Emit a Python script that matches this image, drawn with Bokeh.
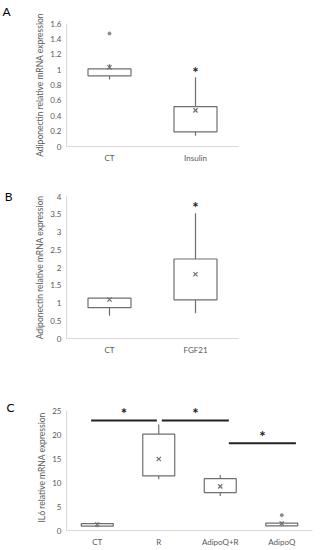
from bokeh.plotting import figure
from bokeh.layouts import column
from bokeh.models import ColumnDataSource, FixedTicker, LabelSet, FactorRange, Range1d, LinearAxis
from bokeh.core.properties import value
from bokeh.embed import file_html
from bokeh.resources import INLINE

# ---------------- Panel A ----------------
a_groups = ["CT", "Insulin"]
a_low = [0.87, 0.14]
a_q1 = [0.92, 0.19]
a_med = [1.00, 0.51]
a_q3 = [1.01, 0.52]
a_high = [1.07, 0.90]
a_mean = [1.03, 0.47]
a_out_group = ["CT"]
a_out_val = [1.47]
a_sig_group = ["Insulin"]
a_sig_val = [1.025]
a_ticks = [0, 0.2, 0.4, 0.6, 0.8, 1.0, 1.2, 1.4, 1.6]
a_tick_labels = ["0", "0.2", "0.4", "0.6", "0.8", "1", "1.2", "1.4", "1.6"]

# ---------------- Panel B ----------------
b_groups = ["CT", "FGF21"]
b_low = [0.64, 0.71]
b_q1 = [0.87, 1.09]
b_med = [0.99, 1.87]
b_q3 = [1.14, 2.24]
b_high = [1.14, 3.53]
b_mean = [1.10, 1.81]
b_out_group = []
b_out_val = []
b_sig_group = ["FGF21"]
b_sig_val = [3.82]
b_ticks = [0, 0.5, 1, 1.5, 2, 2.5, 3, 3.5, 4]
b_tick_labels = ["0", "0.5", "1", "1.5", "2", "2.5", "3", "3.5", "4"]

# ---------------- Panel C ----------------
c_groups = ["CT", "R", "AdipoQ+R", "AdipoQ"]
c_low = [0.69, 10.66, 7.2, 0.83]
c_q1 = [0.90, 11.36, 7.9, 0.97]
c_med = [1.18, 12.3, 9.0, 1.25]
c_q3 = [1.45, 20.08, 10.8, 1.52]
c_high = [1.66, 22.1, 11.56, 1.80]
c_mean = [1.25, 14.9, 9.2, 1.45]
c_out_group = ["AdipoQ"]
c_out_val = [3.2]
c_bar_x0 = [0.40, 1.55, 2.64]
c_bar_x1 = [1.47, 2.64, 3.73]
c_bar_y = [22.9, 22.9, 18.2]
c_star_y = [25.4, 25.4, 20.6]
c_ticks = [0, 5, 10, 15, 20, 25]
c_tick_labels = ["0", "5", "10", "15", "20", "25"]

FONT = "Lato"
GRAY = "#6f6f6f"
TXT = "#595959"
AXIS = "#d9d9d9"


def panel(letter, letter_at, groups, low, q1, med, q3, high, mean, out_g, out_v,
          ticks, tick_labels, ymax, ylabel, width, height, bl, bt, bb, br,
          box_w, cap_w):
    p = figure(x_range=FactorRange(*groups, range_padding=0),
               y_range=Range1d(0, ymax),
               width=width, height=height, output_backend="svg",
               toolbar_location=None, min_border_left=bl, min_border_top=bt,
               min_border_bottom=bb, min_border_right=br)
    p.outline_line_color = None
    p.grid.visible = False
    for ax in (p.xaxis[0], p.yaxis[0]):
        ax.axis_line_color = AXIS
        ax.axis_line_width = 1
        ax.major_tick_line_color = None
        ax.minor_tick_line_color = None
        ax.major_tick_out = 0
        ax.major_tick_in = 0
        ax.major_label_text_font = FONT
        ax.major_label_text_font_size = "8px"
        ax.major_label_text_color = TXT
        ax.major_label_standoff = 5
    p.yaxis.ticker = FixedTicker(ticks=ticks)
    p.yaxis.bounds = (ticks[0], ticks[-1])
    p.yaxis.major_label_overrides = {t: l for t, l in zip(ticks, tick_labels)}
    p.yaxis.axis_label = ylabel
    p.yaxis.axis_label_text_font = FONT
    p.yaxis.axis_label_text_font_size = "8.5px"
    p.yaxis.axis_label_text_font_style = "normal"
    p.yaxis.axis_label_text_color = TXT
    p.yaxis.axis_label_standoff = 2
    p.xaxis.major_label_standoff = 6

    if letter_at is not None:
        # panel letter, drawn as the only tick label of an outer axis
        lax = LinearAxis(ticker=FixedTicker(ticks=[letter_at]),
                         major_label_overrides={letter_at: letter},
                         axis_line_color=None, major_tick_line_color=None,
                         minor_tick_line_color=None, major_tick_out=0, major_tick_in=0,
                         major_label_text_font=FONT, major_label_text_font_size="12px",
                         major_label_text_color="black", major_label_standoff=20)
        p.add_layout(lax, "left")
    else:
        p.title.text = letter
        p.title.align = "left"
        p.title.vertical_align = "top"
        p.title.offset = -64
        p.title.standoff = 6
        p.title.text_font = FONT
        p.title.text_font_size = "12px"
        p.title.text_font_style = "normal"
        p.title.text_color = "black"

    src = ColumnDataSource(dict(g=groups, low=low, q1=q1, med=med, q3=q3,
                                high=high, mean=mean))
    p.segment(x0="g", y0="q3", x1="g", y1="high", source=src, line_color=GRAY, line_width=1.2)
    p.segment(x0="g", y0="low", x1="g", y1="q1", source=src, line_color=GRAY, line_width=1.2)
    p.rect(x="g", y="high", width=cap_w, height=0, source=src, line_color=GRAY, line_width=1.2, fill_color=None)
    p.rect(x="g", y="low", width=cap_w, height=0, source=src, line_color=GRAY, line_width=1.2, fill_color=None)
    p.vbar(x="g", top="q3", bottom="q1", width=box_w, source=src, fill_color="white",
           line_color=GRAY, line_width=1.2)
    p.rect(x="g", y="med", width=box_w, height=0, source=src, line_color=GRAY, line_width=1.2, fill_color=None)
    p.scatter(x="g", y="mean", source=src, marker="x", size=6, line_color=GRAY, line_width=1.2)
    if out_g:
        p.scatter(x=out_g, y=out_v, marker="circle", size=3, fill_color="#8a8a8a", line_color="#8a8a8a")
    return p


def stars(p, xs, ys):
    s = ColumnDataSource(dict(x=xs, y=ys, t=["*"] * len(xs)))
    p.add_layout(LabelSet(x="x", y="y", text="t", source=s,
                          text_font=value(FONT), text_font_size="15px", text_font_style="bold",
                          text_color="#222222", text_align="center", text_baseline="middle",
                          y_offset=-4))


pa = panel("A", None, a_groups, a_low, a_q1, a_med, a_q3, a_high, a_mean, a_out_group, a_out_val,
           a_ticks, a_tick_labels, 1.6, "Adiponectin relative mRNA expression",
           248, 174, 66, 21, 28, 10, 0.5, 0.21)
stars(pa, a_sig_group, a_sig_val)

pb = panel("B", 4, b_groups, b_low, b_q1, b_med, b_q3, b_high, b_mean, b_out_group, b_out_val,
           b_ticks, b_tick_labels, 4, "Adiponectin relative mRNA expression",
           248, 189, 66, 22, 25, 10, 0.5, 0.21)
stars(pb, b_sig_group, b_sig_val)

pc = panel("C", 25.6, c_groups, c_low, c_q1, c_med, c_q3, c_high, c_mean, c_out_group, c_out_val,
           c_ticks, c_tick_labels, 26.25, "IL6 relative mRNA expression",
           322, 186, 66, 41, 19, 6, 0.52, 0.16)
csrc = ColumnDataSource(dict(x0=c_bar_x0, x1=c_bar_x1, y=c_bar_y))
pc.segment(x0="x0", y0="y", x1="x1", y1="y", source=csrc, line_color="#222222", line_width=2)
stars(pc, [(a + b) / 2 for a, b in zip(c_bar_x0, c_bar_x1)], c_star_y)

layout = column(pa, pb, pc, spacing=0)
open("out.html", "w").write(file_html(layout, INLINE))
